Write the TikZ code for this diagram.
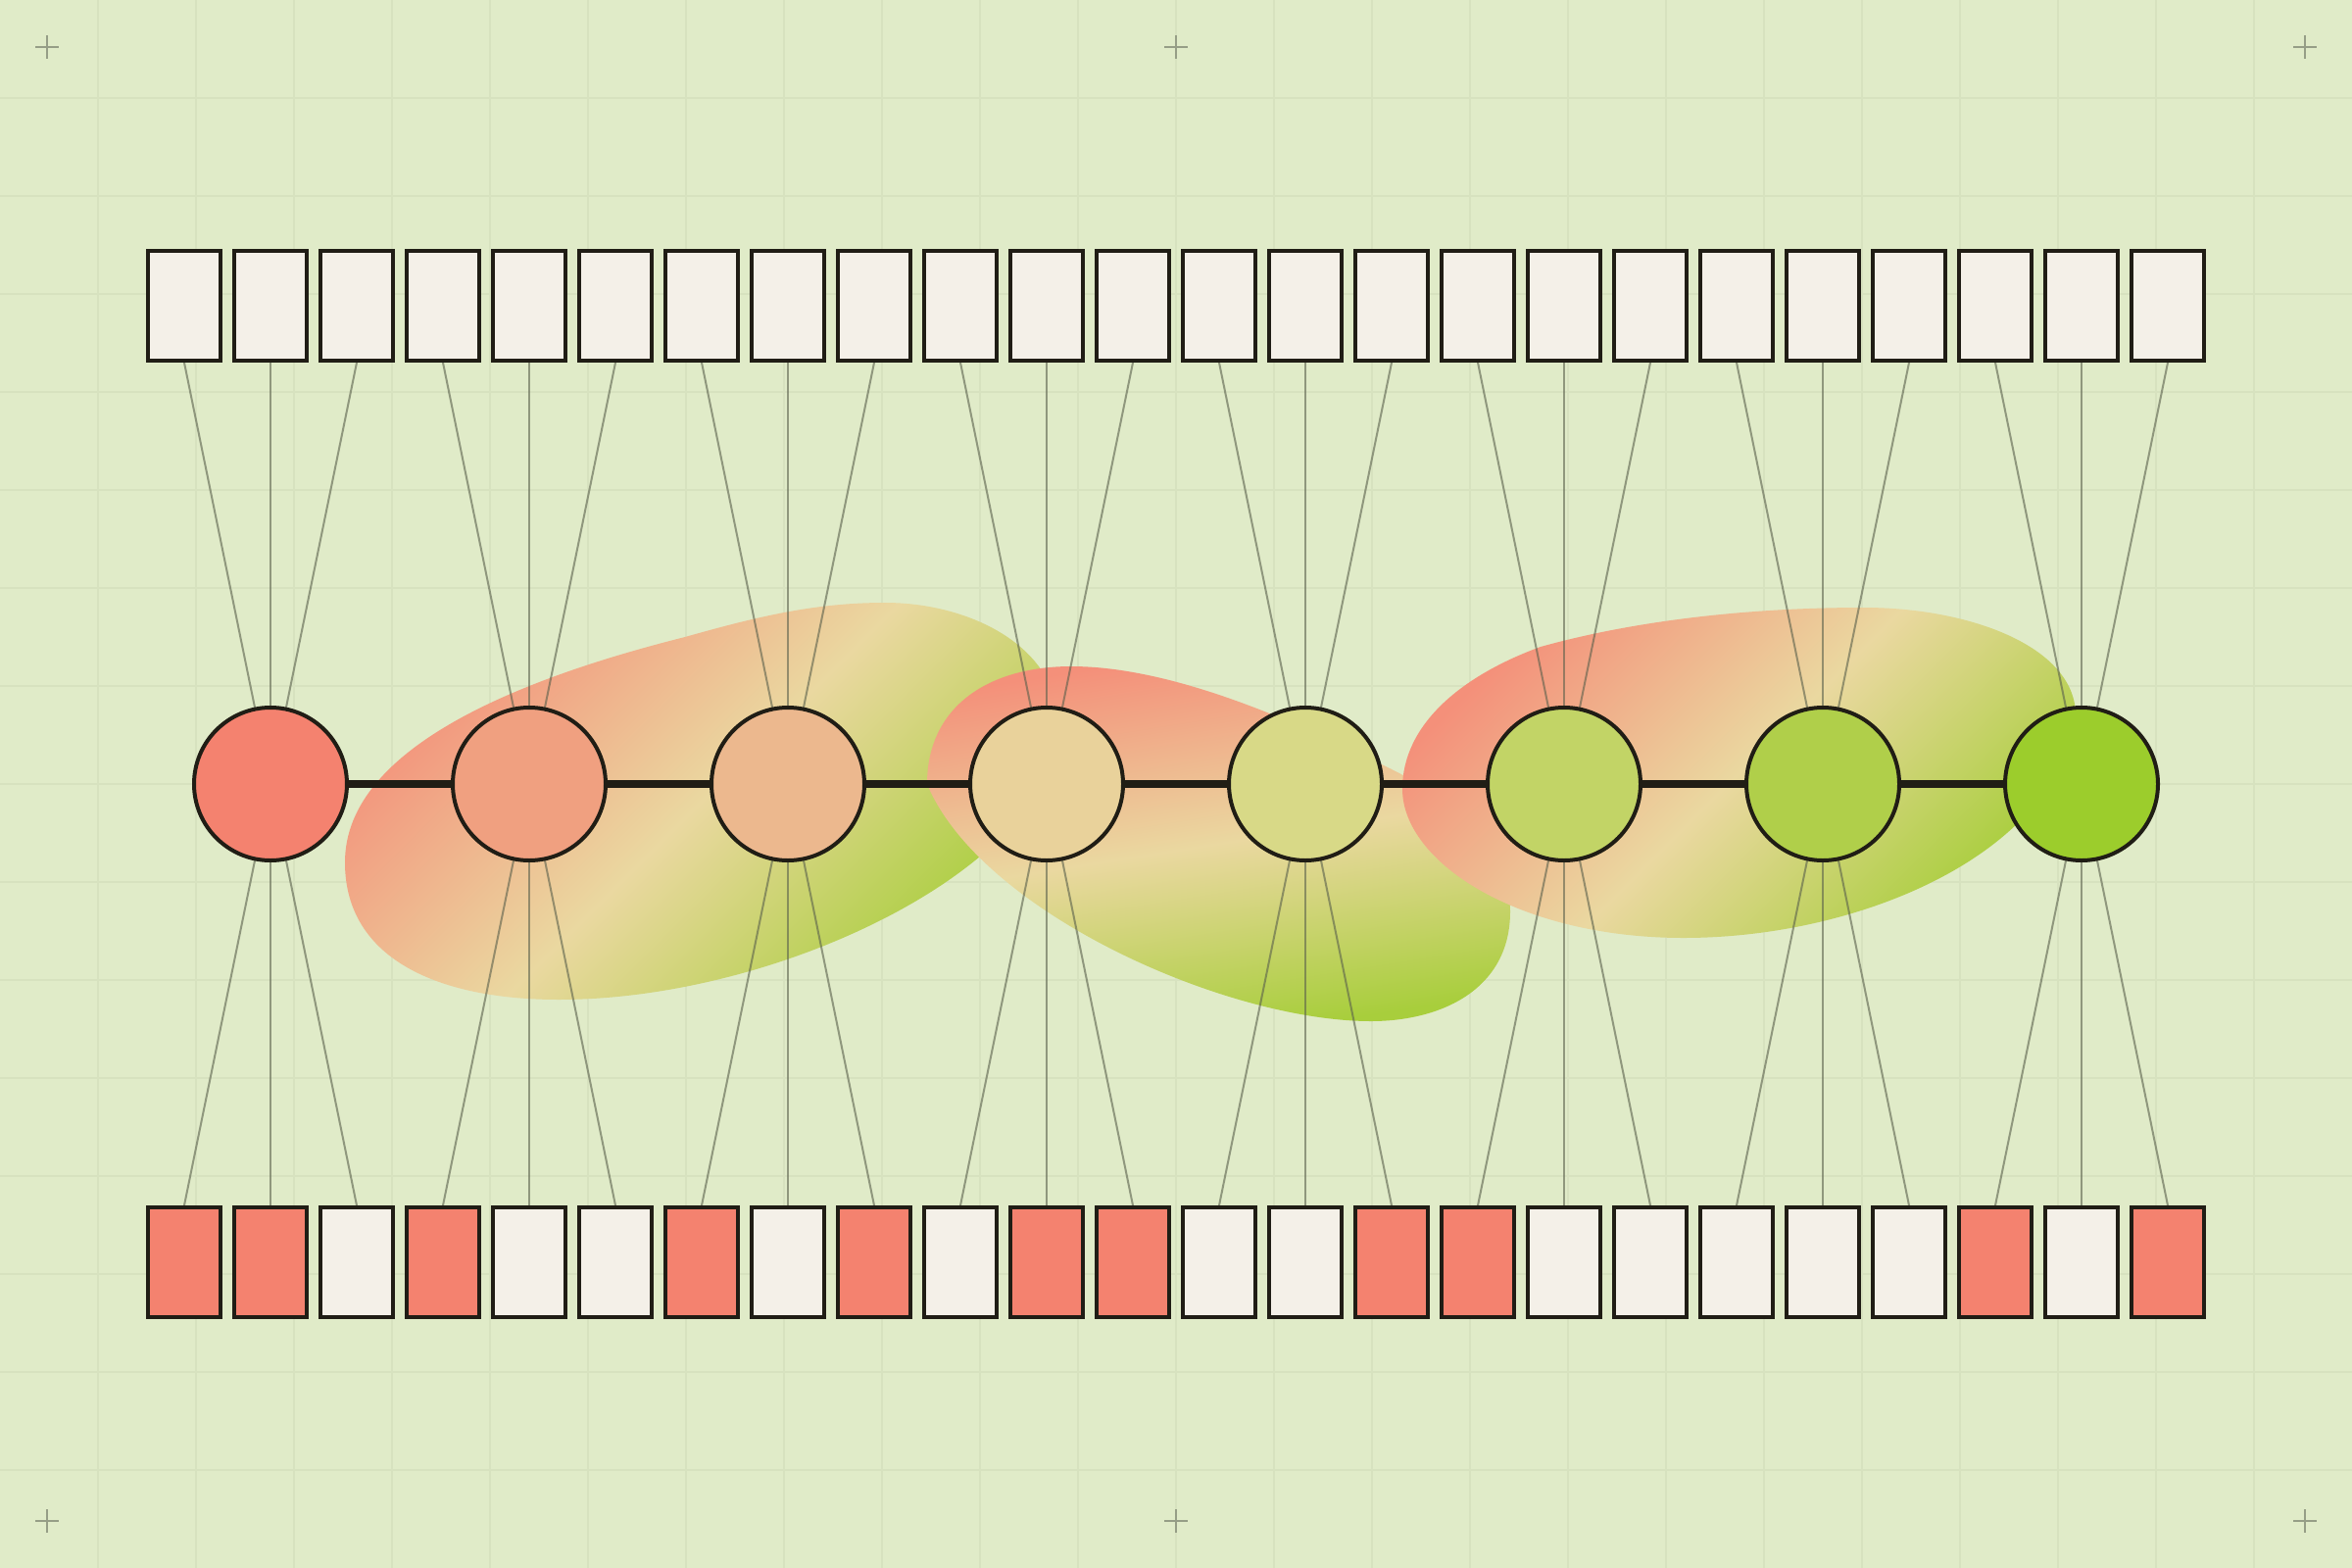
\documentclass[tikz,border=0pt]{standalone}
\definecolor{bgc}{HTML}{E0EBC8}
\definecolor{gridc}{HTML}{D7E2BF}
\definecolor{crossc}{HTML}{969E86}
\definecolor{ink}{HTML}{201D15}
\definecolor{cream}{HTML}{F4F0E8}
\definecolor{sal}{HTML}{F4826F}
\definecolor{linkc}{HTML}{5A604C}
\definecolor{blobA}{HTML}{F4907A}
\definecolor{blobB}{HTML}{EAD8A0}
\definecolor{blobC}{HTML}{A8CE3C}
\definecolor{cA}{HTML}{F4826F}
\definecolor{cB}{HTML}{F0A080}
\definecolor{cC}{HTML}{ECB88E}
\definecolor{cD}{HTML}{E9D29B}
\definecolor{cE}{HTML}{D8D987}
\definecolor{cF}{HTML}{C2D466}
\definecolor{cG}{HTML}{B0CF4A}
\definecolor{cH}{HTML}{9CCD2C}
\pgfdeclarelayer{back}
\pgfdeclarelayer{links}
\pgfsetlayers{back,links,main}
\tikzset{
  tbox/.style={rectangle, draw=ink, line width=4pt, minimum width=74pt, minimum height=112pt, inner sep=0pt},
  circ/.style={circle, draw=ink, line width=4pt, minimum size=156pt, inner sep=0pt},
  thinlink/.style={draw=linkc, line width=2pt, opacity=0.6},
  chainlink/.style={draw=ink, line width=8pt},
  gridline/.style={draw=gridc, line width=2pt},
  crossmark/.style={draw=crossc, line width=2pt},
  blob/.style={top color=blobA, bottom color=blobC, middle color=blobB}
}
\begin{document}
\begin{tikzpicture}[x=1pt,y=-1pt]
\useasboundingbox (0,0) rectangle (2400,1600);
\begin{pgfonlayer}{back}
  \fill[bgc] (0,0) rectangle (2400,1600);
  \foreach \g in {100,200,...,2300} \draw[gridline] (\g,0) -- (\g,1600);
  \foreach \g in {100,200,...,1500} \draw[gridline] (0,\g) -- (2400,\g);
  \foreach \cx/\cy in {48/48,1200/48,2352/48,48/1552,1200/1552,2352/1552} {
    \draw[crossmark] (\cx-12,\cy) -- (\cx+12,\cy);
    \draw[crossmark] (\cx,\cy-12) -- (\cx,\cy+12);
  }
  % blob 1
  \shade[blob, shading angle=45]
    (352,880) .. controls (352,980) and (450,1020) .. (570,1020)
    .. controls (800,1020) and (1080,880) .. (1080,740)
    .. controls (1080,660) and (990,615) .. (903,615)
    .. controls (830,615) and (770,630) .. (699,650)
    .. controls (540,690) and (352,760) .. cycle;
  % blob 2
  \shade[blob, shading angle=9]
    (946,800) .. controls (946,720) and (1010,680) .. (1093,680)
    .. controls (1200,680) and (1330,740) .. (1420,785)
    .. controls (1500,825) and (1541,870) .. (1541,930)
    .. controls (1541,1010) and (1470,1042) .. (1399,1042)
    .. controls (1250,1042) and (1000,930) .. cycle;
  % blob 3
  \shade[blob, shading angle=45]
    (1431,805) .. controls (1431,740) and (1490,690) .. (1572,660)
    .. controls (1680,630) and (1800,620) .. (1902,620)
    .. controls (2010,620) and (2118,660) .. (2118,730)
    .. controls (2100,870) and (1900,957) .. (1718,957)
    .. controls (1550,957) and (1431,880) .. cycle;
\end{pgfonlayer}

% top boxes
\foreach \k in {0,...,23}
  \node[tbox, fill=cream] (t\k) at ({188+88*\k},312) {};
% bottom boxes
\foreach \k/\f in {0/sal,1/sal,2/cream,3/sal,4/cream,5/cream,6/sal,7/cream,8/sal,9/cream,10/sal,11/sal,
                   12/cream,13/cream,14/sal,15/sal,16/cream,17/cream,18/cream,19/cream,20/cream,21/sal,22/cream,23/sal}
  \node[tbox, fill=\f] (b\k) at ({188+88*\k},1288) {};
% circles
\foreach \i/\col in {0/cA,1/cB,2/cC,3/cD,4/cE,5/cF,6/cG,7/cH}
  \node[circ, fill=\col] (c\i) at ({276+264*\i},800) {};

\begin{pgfonlayer}{links}
  \foreach \i in {0,...,7} {
    \foreach \j in {0,1,2} {
      \pgfmathtruncatemacro\k{3*\i+\j}
      \draw[thinlink] (t\k.south) -- (c\i.center);
      \draw[thinlink] (b\k.north) -- (c\i.center);
    }
  }
  \foreach \i [evaluate=\i as \n using int(\i+1)] in {0,...,6}
    \draw[chainlink] (c\i.center) -- (c\n.center);
\end{pgfonlayer}
\end{tikzpicture}
\end{document}
